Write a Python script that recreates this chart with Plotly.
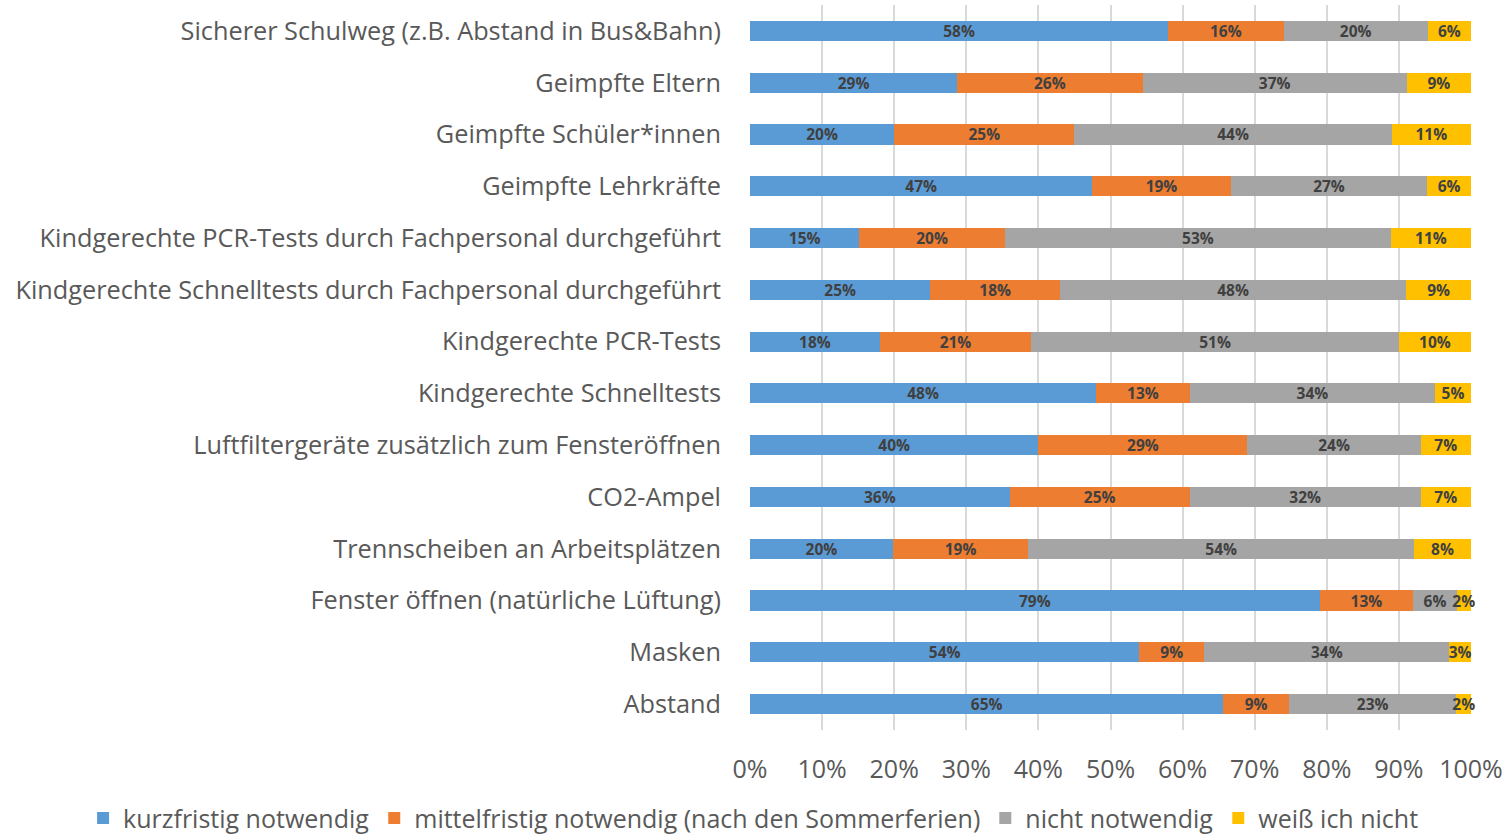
import plotly.graph_objects as go

categories = [
    "Sicherer Schulweg (z.B. Abstand in Bus&Bahn)",
    "Geimpfte Eltern",
    "Geimpfte Schüler*innen",
    "Geimpfte Lehrkräfte",
    "Kindgerechte PCR-Tests durch Fachpersonal durchgeführt",
    "Kindgerechte Schnelltests durch Fachpersonal durchgeführt",
    "Kindgerechte PCR-Tests",
    "Kindgerechte Schnelltests",
    "Luftfiltergeräte zusätzlich zum Fensteröffnen",
    "CO2-Ampel",
    "Trennscheiben an Arbeitsplätzen",
    "Fenster öffnen (natürliche Lüftung)",
    "Masken",
    "Abstand",
]

kurzfristig = [58, 29, 20, 47, 15, 25, 18, 48, 40, 36, 20, 79, 54, 65]
mittelfristig = [16, 26, 25, 19, 20, 18, 21, 13, 29, 25, 19, 13, 9, 9]
nicht_notwendig = [20, 37, 44, 27, 53, 48, 51, 34, 24, 32, 54, 6, 34, 23]
weiss_nicht = [6, 9, 11, 6, 11, 9, 10, 5, 7, 7, 8, 2, 3, 2]

series_names = [
    "kurzfristig notwendig",
    "mittelfristig notwendig (nach den Sommerferien)",
    "nicht notwendig",
    "weiß ich nicht",
]
series_values = [kurzfristig, mittelfristig, nicht_notwendig, weiss_nicht]
colors = ["#5B9BD5", "#ED7D31", "#A5A5A5", "#FFC000"]

FONT = "Open Sans"

fig = go.Figure()
for name, vals, col in zip(series_names, series_values, colors):
    fig.add_trace(go.Bar(
        y=categories,
        x=vals,
        name=name,
        orientation="h",
        marker=dict(color=col, line=dict(width=0)),
        text=[f"{v}%" for v in vals],
        textposition="inside",
        insidetextanchor="middle",
        textangle=0,
        textfont=dict(family=FONT, size=15.5, color="#404040", weight="bold"),
        constraintext="none",
        cliponaxis=False,
    ))

fig.update_layout(
    barmode="stack",
    barnorm="percent",
    bargap=0.61,
    width=1511,
    height=835,
    margin=dict(l=750, r=40, t=5, b=105, autoexpand=False),
    plot_bgcolor="white",
    paper_bgcolor="white",
    font=dict(family=FONT, color="#595959"),
    uniformtext=dict(minsize=15.5, mode="show"),
    legend=dict(
        orientation="h",
        x=-0.925, xanchor="left", xref="paper",
        y=-0.09, yanchor="top", yref="paper",
        font=dict(family=FONT, size=25, color="#595959"),
        traceorder="normal",
        itemwidth=30,
        tracegroupgap=0,
    ),
    xaxis=dict(
        range=[0, 100.0001],
        tickvals=list(range(0, 101, 10)),
        ticktext=[f"{v}%" for v in range(0, 101, 10)],
        showgrid=True,
        gridcolor="#D9D9D9",
        gridwidth=1.5,
        zeroline=False,
        showline=False,
        tickfont=dict(family=FONT, size=25, color="#595959"),
        ticks="",
        ticklabelstandoff=22,
    ),
    yaxis=dict(
        autorange="reversed",
        tickfont=dict(family=FONT, size=25.3, color="#595959"),
        showline=False,
        ticks="",
        ticklabelstandoff=28,
    ),
)

fig.write_html(
    "out.html",
    config={"displayModeBar": False},
    post_script="document.body.style.margin='0';document.body.style.overflow='hidden';",
)
